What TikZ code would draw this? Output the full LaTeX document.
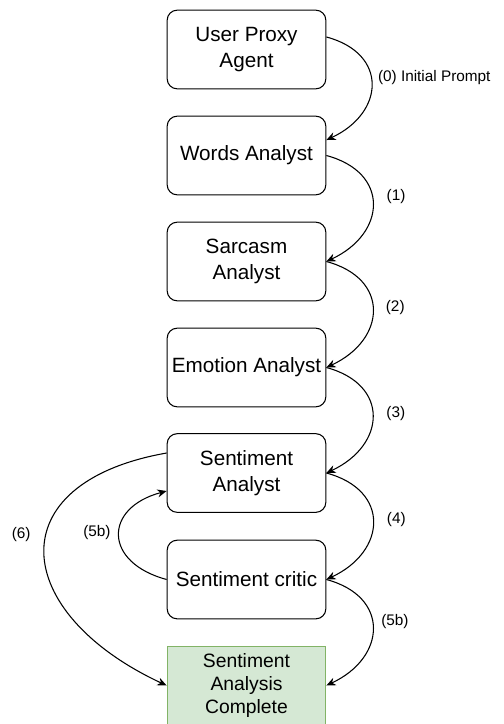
\documentclass[tikz,border=0pt]{standalone}
\usepackage{fontspec}
\setmainfont{Liberation Sans}
\usepackage{xcolor}
\usetikzlibrary{arrows.meta}
\definecolor{donefill}{HTML}{D5E8D4}
\definecolor{doneline}{HTML}{82B366}

\begin{document}
\begin{tikzpicture}[x=0.75pt, y=0.75pt, >={Stealth[length=7pt, width=6pt]},
  agent/.style={draw, rounded corners=7.5pt, line width=0.8pt, minimum width=119pt,
    minimum height=59pt, align=center, font=\fontsize{15.5}{20}\selectfont},
  done/.style={agent, sharp corners, draw=doneline, fill=donefill,
    font=\fontsize{14.5}{17.6}\selectfont},
  flow/.style={->, line width=0.8pt},
  lbl/.style={font=\fontsize{11.5}{13}\selectfont, inner sep=0pt}]
  \useasboundingbox (0,0) rectangle (503,-724);

  % agents, top to bottom
  \node[agent] (user)    at (246.5,-49.5)  {User Proxy\\Agent};
  \node[agent] (words)   at (246.5,-155.5) {Words Analyst};
  \node[agent] (sarcasm) at (246.5,-261.5) {Sarcasm\\Analyst};
  \node[agent] (emotion) at (246.5,-367.5) {Emotion Analyst};
  \node[agent] (analyst) at (246.5,-473)   {Sentiment\\Analyst};
  \node[agent] (critic)  at (246.5,-579.5) {Sentiment critic};
  \node[done]  (done)    at (246.5,-685.5) {Sentiment\\Analysis\\Complete};

  % right hand chain
  \draw[flow] ([yshift=9.4pt]user.east) to[out=-15, in=25, looseness=1.6]
    node[lbl, anchor=west, xshift=4.5pt, yshift=5.6pt] {(0) Initial Prompt}
    ([yshift=11.6pt]words.east);
  \draw[flow] (words.east) to[out=-15, in=25, looseness=1.6]
    node[lbl, anchor=west, xshift=10pt, yshift=5.6pt] {(1)} (sarcasm.east);
  \draw[flow] (sarcasm.east) to[out=-15, in=25, looseness=1.6]
    node[lbl, anchor=west, xshift=9.4pt, yshift=2pt] {(2)} (emotion.east);
  \draw[flow] (emotion.east) to[out=-15, in=25, looseness=1.6]
    node[lbl, anchor=west, xshift=10pt, yshift=2pt] {(3)} (analyst.east);
  \draw[flow] (analyst.east) to[out=-15, in=25, looseness=1.6]
    node[lbl, anchor=west, xshift=10pt, yshift=2.3pt] {(4)} (critic.east);
  \draw[flow] (critic.east) to[out=-15, in=25, looseness=1.6]
    node[lbl, anchor=west, xshift=6pt, yshift=5pt] {(5b)} (done.east);

  % left hand loops
  \draw[flow] (critic.west) to[out=165, in=195, looseness=1.9]
    node[lbl, anchor=east, xshift=-6pt, yshift=2pt] {(5b)} ([yshift=-13.5pt]analyst.west);
  \draw[flow] ([yshift=15pt]analyst.west) to[out=190, in=155, looseness=1.9]
    node[lbl, anchor=east, xshift=-10pt, yshift=14pt] {(6)} (done.west);
\end{tikzpicture}
\end{document}
